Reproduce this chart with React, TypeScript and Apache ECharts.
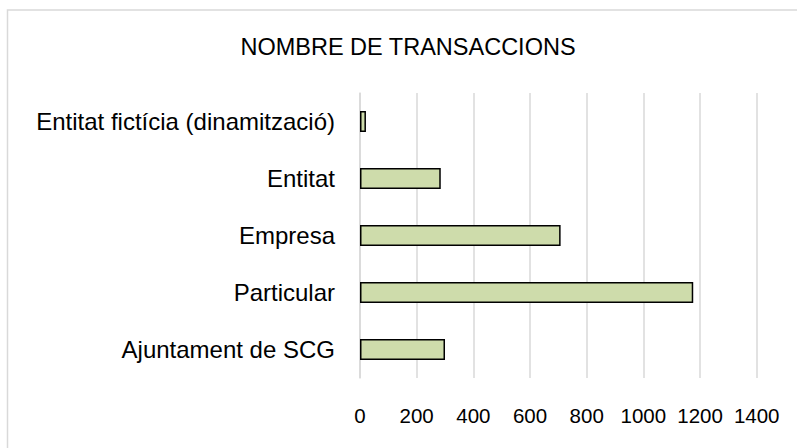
import React, { useEffect, useRef } from "react";
import * as echarts from "echarts";

const categories = [
  "Ajuntament de SCG",
  "Particular",
  "Empresa",
  "Entitat",
  "Entitat fictícia (dinamització)",
];
const values = [300, 1176, 708, 285, 21];
const titleText = "NOMBRE DE TRANSACCIONS";

export default function App() {
  const ref = useRef<HTMLDivElement>(null);
  useEffect(() => {
    if (!ref.current) return;
    const chart = echarts.init(ref.current, null, { renderer: "svg" });
    const font = "'Liberation Sans', Arial, sans-serif";
    chart.setOption({
      animation: false,
      backgroundColor: "#ffffff",
      graphic: [
        {
          type: "rect",
          shape: { x: 7.5, y: 10, width: 800, height: 450 },
          style: { fill: "none", stroke: "#d9d9d9", lineWidth: 1.5 },
          silent: true,
        },
        {
          type: "text",
          x: 408,
          y: 47,
          style: {
            text: titleText,
            font: `23.5px ${font}`,
            fill: "#000000",
            textAlign: "center",
            textVerticalAlign: "middle",
          },
        },
      ],
      grid: { left: 360, right: 40.3, top: 93, bottom: 70, containLabel: false },
      xAxis: {
        type: "value",
        min: 0,
        max: 1400,
        interval: 200,
        axisLine: { show: false },
        axisTick: { show: false },
        splitLine: { show: true, lineStyle: { color: "#d9d9d9", width: 1.5 } },
        axisLabel: {
          color: "#000000",
          fontSize: 20.5,
          fontFamily: font,
          margin: 27,
          formatter: (v: number) => String(v),
        },
      },
      yAxis: {
        type: "category",
        data: categories,
        axisLine: { show: true, lineStyle: { color: "#d9d9d9", width: 1.5 } },
        axisTick: { show: false },
        axisLabel: {
          color: "#000000",
          fontSize: 24,
          fontFamily: font,
          margin: 25,
        },
      },
      series: [
        {
          type: "bar",
          data: values,
          barWidth: 21,
          itemStyle: {
            color: "#cedcab",
            borderColor: "#000000",
            borderWidth: 1.5,
          },
        },
      ],
    });
    return () => chart.dispose();
  }, []);
  return (
    <div
      ref={ref}
      style={{ position: "fixed", left: 0, top: 0, width: 797, height: 448 }}
    />
  );
}
